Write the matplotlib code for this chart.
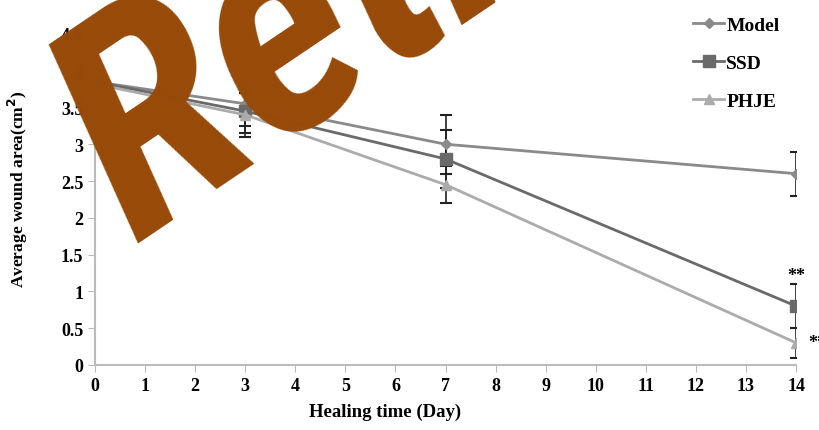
import matplotlib.pyplot as plt
import numpy as np

days = [0, 3, 7, 14]
model = [3.85, 3.55, 3.0, 2.6]
ssd = [3.85, 3.45, 2.8, 0.8]
phje = [3.82, 3.4, 2.45, 0.3]
model_err = [0.0, 0.3, 0.4, 0.3]
ssd_err = [0.0, 0.3, 0.4, 0.3]
phje_err = [0.0, 0.3, 0.25, 0.2]

xticks = np.arange(0, 15, 1)
yticks = np.arange(0, 5.0, 0.5)
ylabels = ['0', '0.5', '1', '1.5', '2', '2.5', '3', '3.5', '4', '4.5']

plt.rcParams['font.family'] = 'Liberation Serif'
plt.rcParams['font.weight'] = 'bold'

fig = plt.figure(figsize = (8.19, 4.31), dpi = 100)
ax = fig.add_axes([0.116, 0.151, 0.856, 0.768])

series = [
    ('Model', model, model_err, '#8a8a8a', 'D', 5),
    ('SSD', ssd, ssd_err, '#6a6a6a', 's', 8),
    ('PHJE', phje, phje_err, '#ababab', '^', 7),
]
for name, vals, err, col, mk, ms in series:
    ax.errorbar(days, vals, yerr = err, color = col, linewidth = 2, marker = mk,
                markersize = ms, ecolor = '#222222', elinewidth = 1.2,
                capsize = 4, capthick = 1.5, label = name)

ax.text(14, 1.22, '**', ha = 'center', va = 'center', fontsize = 13)
ax.text(14.25, 0.3, '**', ha = 'left', va = 'center', fontsize = 13, clip_on = False)

ax.set_xlim(0, 14)
ax.set_ylim(0, 4.5)
ax.set_xticks(xticks)
ax.set_yticks(yticks)
ax.set_yticklabels(ylabels)
ax.tick_params(labelsize = 13, color = '#bbbbbb', length = 5)
ax.set_xlabel('Healing time (Day)', fontsize = 13.5, fontweight = 'bold')
ax.set_ylabel('Average wound area(cm$^{\\mathbf{2}}$)', fontsize = 12.5, fontweight = 'bold')
ax.xaxis.set_label_coords(0.414, -0.115)
ax.yaxis.set_label_coords(-0.093, 0.535)

ax.spines['right'].set_color('none')
ax.spines['top'].set_color('none')
ax.spines['left'].set_color('#bbbbbb')
ax.spines['bottom'].set_color('#bbbbbb')
ax.spines['left'].set_linewidth(1.5)
ax.spines['bottom'].set_linewidth(1.5)

handles, labels = ax.get_legend_handles_labels()
handles = [h[0] for h in handles]
fig.legend(handles, labels, loc = 'upper left', bbox_to_anchor = (0.825, 1.0),
           frameon = False, fontsize = 14, labelspacing = 1.05,
           handlelength = 1.6, handletextpad = 0.1)

# retraction watermark
fig.text(0.167, 0.434, 'Retracted', color = '#984a08', fontsize = 218,
         fontweight = 'bold', fontstyle = 'italic', family = 'Roboto Condensed',
         rotation = 34, rotation_mode = 'anchor', ha = 'left',
         va = 'baseline', zorder = 10)

plt.savefig('out.png', dpi = 100)
